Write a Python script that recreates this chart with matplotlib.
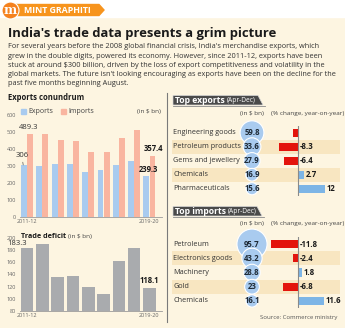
import matplotlib.pyplot as plt
from matplotlib.patches import Circle, Polygon, Rectangle

plt.rcParams['font.family'] = ['Open Sans', 'DejaVu Sans']

# India's merchandise trade, $ bn
years = ['2011-12', '2012-13', '2013-14', '2014-15', '2015-16',
         '2016-17', '2017-18', '2018-19', '2019-20']
exports = [306.0, 300.4, 314.4, 310.3, 262.3, 275.9, 303.5, 330.1, 239.3]
imports = [489.3, 490.7, 450.2, 448.0, 381.0, 384.4, 465.6, 514.1, 357.4]
deficit = [183.3, 190.3, 135.8, 137.7, 118.7, 108.5, 162.1, 184.0, 118.1]

# Apr-Dec top items
exp_items = ['Engineering goods', 'Petroleum products', 'Gems and jewellery',
             'Chemicals', 'Pharmaceuticals']
exp_value = [59.8, 33.6, 27.9, 16.9, 15.6]
exp_change = [-2.2, -8.3, -6.4, 2.7, 12.0]
exp_show = [False, True, True, True, True]

imp_items = ['Petroleum', 'Electronics goods', 'Machinery', 'Gold', 'Chemicals']
imp_value = [95.7, 43.2, 28.8, 23.0, 16.1]
imp_change = [-11.8, -2.4, 1.8, -6.8, 11.6]
imp_show = [True, True, True, True, True]

CREAM = '#fdf5e1'
BAND = '#f8e6c1'
BLUE = '#a9cbef'
SALMON = '#f9b5a0'
GREY = '#a9abae'
RED = '#e3140c'
BARBLUE = '#7db5e6'

W, H = 345, 328
fig = plt.figure(figsize=(W / 100, H / 100), dpi=100, facecolor=CREAM)


def box(x0, y0, x1, y1):
    return [x0 / W, 1 - y1 / H, (x1 - x0) / W, (y1 - y0) / H]


# pixel-space layer for the header, captions and decorations
bg = fig.add_axes([0, 0, 1, 1], zorder=0)
bg.set_xlim(0, W)
bg.set_ylim(H, 0)
bg.axis('off')
bg.patch.set_alpha(0)

renderer = fig.canvas.get_renderer()


def fit(t, width):
    w = t.get_window_extent(renderer).width
    t.set_fontsize(t.get_fontsize() * width / w)
    return t


def right_edge(t):
    return bg.transData.inverted().transform((t.get_window_extent(renderer).x1, 0))[0]


bg.add_patch(Rectangle((0, 0), W, 17, color='white', zorder=0))
bg.add_patch(Polygon([(14, 4.5), (99, 4.5), (104, 10), (99, 15.5), (14, 15.5)],
                     closed=True, color='#f7941d', zorder=1))
bg.add_patch(Circle((10.5, 10.5), 8.5, color='#f5821f', ec='white', lw=0.8, zorder=2))
bg.text(10.5, 10, 'm', color='white', fontsize=9, fontweight='bold',
        ha='center', va='center', family='DejaVu Serif', zorder=3)
fit(bg.text(24, 10.3, 'MINT GRAPHITI', color='white', fontweight='bold',
            fontsize=6, va='center', zorder=3), 68)

fit(bg.text(8, 34, "India's trade data presents a grim picture", color='#1a1a1a',
            fontweight='bold', fontsize=10, va='center'), 268)

body = [
    "For several years before the 2008 global financial crisis, India's merchandise exports, which",
    "grew in the double digits, powered its economy. However, since 2011-12, exports have been",
    r"stuck at around \$300 billion, driven by the loss of export competitiveness and volatility in the",
    "global markets. The future isn't looking encouraging as exports have been on the decline for the",
    "past five months beginning August.",
]
first = fit(bg.text(8, 47, body[0], color='#333333', fontsize=5.5, va='center'), 312)
for i, line in enumerate(body[1:], start=1):
    bg.text(8, 47 + 9.2 * i, line, color='#333333', fontsize=first.get_fontsize(),
            va='center')

# separator between the two halves
bg.plot([167, 167], [93, 322], color='#7a7a7a', lw=0.8)

# ---- Exports conundrum ----
fit(bg.text(8, 98, 'Exports conundrum', color='#1a1a1a', fontweight='bold',
            fontsize=6.5, va='center'), 75)
bg.add_patch(Rectangle((21, 109), 4.5, 4.5, color=BLUE))
bg.text(28, 111.5, 'Exports', fontsize=5, color='#444444', va='center')
bg.add_patch(Rectangle((61, 109), 4.5, 4.5, color=SALMON))
bg.text(68, 111.5, 'Imports', fontsize=5, color='#444444', va='center')
bg.text(161, 111.5, r'(in \$ bn)', fontsize=4.6, color='#444444', va='center', ha='right')

x = list(range(len(years)))
ax1 = fig.add_axes(box(20, 115, 162, 217), zorder=1)
ax1.patch.set_alpha(0)
ax1.bar([i - 0.2 for i in x], exports, width=0.39, color=BLUE)
ax1.bar([i + 0.2 for i in x], imports, width=0.39, color=SALMON)
ax1.set_ylim(0, 600)
ax1.set_xlim(-0.46, 8.82)
ax1.set_yticks(range(0, 601, 100))
ax1.set_xticks([0, 8], [years[0], years[-1]])

ax1.annotate(f'{imports[0]:g}', (0.1, imports[0]), xytext=(0, 2), textcoords='offset points',
             ha='center', va='bottom', fontsize=5.5, color='#333333')
ax1.annotate(f'{exports[0]:g}', (-0.25, exports[0]), xytext=(-1, 4), textcoords='offset points',
             ha='center', va='bottom', fontsize=5.5, color='#333333',
             arrowprops=dict(arrowstyle='-', color='#555555', lw=0.5, shrinkA=0, shrinkB=0))
ax1.annotate(f'{imports[-1]:g}', (8.25, imports[-1]), xytext=(0, 2), textcoords='offset points',
             ha='center', va='bottom', fontsize=5.5, color='#1a1a1a', fontweight='bold')
ax1.annotate(f'{exports[-1]:g}', (7.95, exports[-1]), xytext=(0, 2), textcoords='offset points',
             ha='center', va='bottom', fontsize=5.5, color='#1a1a1a', fontweight='bold')

# ---- Trade deficit ----
ax2 = fig.add_axes(box(20, 238, 162, 311), zorder=1)
ax2.patch.set_alpha(0)
ax2.bar(x, deficit, width=0.82, color=GREY)
ax2.set_ylim(80, 200)
ax2.set_xlim(-0.46, 8.82)
ax2.set_yticks(range(80, 201, 20))
ax2.set_xticks([0, 8], [years[0], years[-1]])
ax2.annotate(f'{deficit[0]:g}', (0, deficit[0]), xytext=(-7.5, 0.5), textcoords='offset points',
             ha='center', va='bottom', fontsize=5.5, color='#333333')
ax2.annotate(f'{deficit[-1]:g}', (8, deficit[-1]), xytext=(0, 2), textcoords='offset points',
             ha='center', va='bottom', fontsize=5.5, color='#1a1a1a', fontweight='bold')
td = fit(bg.text(21, 236, 'Trade deficit', fontsize=6.3, fontweight='bold',
                 color='#1a1a1a', va='center'), 45)
bg.text(right_edge(td) + 1.5, 236.5, r'(in \$ bn)', fontsize=4.6, color='#444444', va='center')

for ax in (ax1, ax2):
    for side in ('top', 'right', 'left'):
        ax.spines[side].set_visible(False)
    ax.spines['bottom'].set_color('#9a9a9a')
    ax.spines['bottom'].set_linewidth(0.6)
    ax.tick_params(length=0, labelsize=4, labelcolor='#666666', pad=1.5)
    ax.tick_params(axis='y', pad=3)


# ---- Top exports / imports tables ----
def tab(y0, label, x1):
    bg.add_patch(Polygon([(173, y0), (x1, y0), (x1 + 5, y0 + 9.5), (173, y0 + 9.5)],
                         closed=True, color='#4a4a4a', ec='#d8d8d8', lw=0.5))
    bg.plot([173, x1 + 7], [y0 + 10, y0 + 10], color='#8a8a8a', lw=0.6)
    t = bg.text(175, y0 + 5, label, color='white', fontweight='bold', fontsize=6.2, va='center')
    bg.text(right_edge(t) + 2, y0 + 5.3, '(Apr-Dec)', color='white', fontsize=4.8, va='center')


def table(y_top, y_bot, names, values, changes, show):
    n = len(names)
    rows = fig.add_axes(box(172, y_top, 340, y_bot), zorder=1)
    rows.set_xlim(0, 1)
    rows.set_ylim(n - 0.5, -0.5)
    rows.axis('off')
    for i, name in enumerate(names):
        if i % 2 == 1:
            rows.axhspan(i - 0.5, i + 0.5, color=BAND, lw=0)
        rows.text(0.008, i, name, fontsize=5.2, color='#333333', va='center')

    bub = fig.add_axes(box(232, y_top, 272, y_bot), zorder=2)
    bub.set_xlim(-1, 1)
    bub.set_ylim(n - 0.5, -0.5)
    bub.axis('off')
    bub.scatter([0] * n, range(n), s=[4.9 * v for v in values], color=BLUE,
                edgecolor='white', lw=0.8, clip_on=False, zorder=3)
    for i, v in enumerate(values):
        bub.text(0, i, f'{v:g}', fontsize=5.6, fontweight='bold', color='#1e2a36',
                 ha='center', va='center', zorder=4)

    bar = fig.add_axes(box(262, y_top, 338, y_bot), zorder=2)
    bar.set_xlim(-16, 17.8)
    bar.set_ylim(n - 0.5, -0.5)
    bar.axis('off')
    bar.barh(range(n), changes, height=0.58, color=[RED if c < 0 else BARBLUE for c in changes])
    bar.axvline(0, color='#8a8a8a', lw=0.8)
    for i, c in enumerate(changes):
        if not show[i]:
            continue
        xpos = 0 if c < 0 else c
        bar.annotate(f'{c:g}', (xpos, i), xytext=(1.2, 0), textcoords='offset points',
                     ha='left', va='center', fontsize=5.6, fontweight='bold', color='#1a1a1a')


tab(95.5, 'Top exports', 258)
bg.text(252, 113, r'(in \$ bn)', fontsize=4.6, color='#444444', ha='center', va='center')
bg.text(271, 113, '(% change, year-on-year)', fontsize=4.6, color='#444444', va='center')
table(125.7, 195.7, exp_items, exp_value, exp_change, exp_show)

tab(206.5, 'Top imports', 257)
bg.text(252, 224, r'(in \$ bn)', fontsize=4.6, color='#444444', ha='center', va='center')
bg.text(271, 224, '(% change, year-on-year)', fontsize=4.6, color='#444444', va='center')
table(237, 308, imp_items, imp_value, imp_change, imp_show)

bg.text(337, 318, 'Source: Commerce ministry', fontsize=4.3, color='#555555',
        ha='right', va='center')

fig.savefig('out.png', dpi=100, facecolor=CREAM)
